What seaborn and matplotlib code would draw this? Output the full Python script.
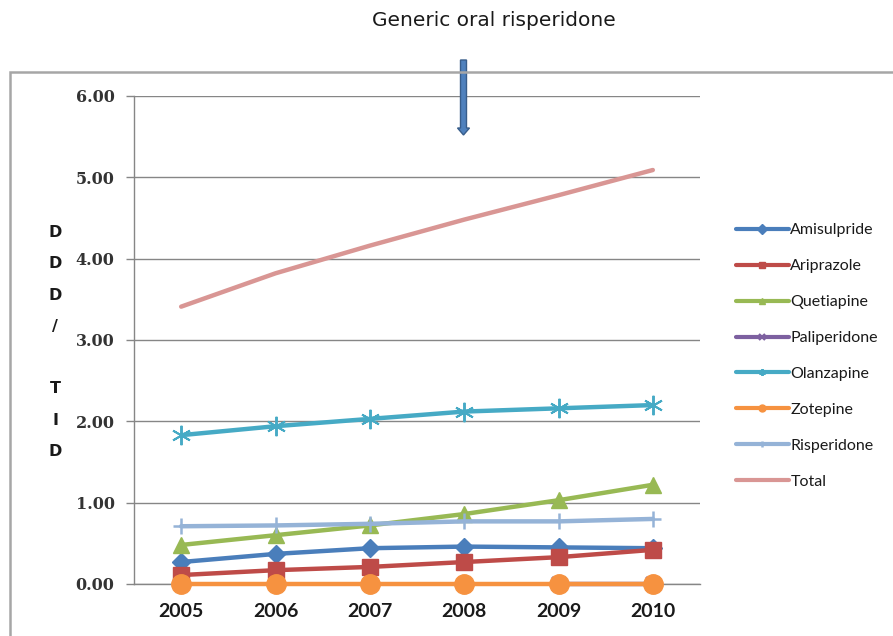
import matplotlib
matplotlib.use("Agg")
import matplotlib.pyplot as plt
from matplotlib.patches import FancyArrow, Rectangle
import numpy as np
import pandas as pd
import seaborn as sns

# ---- data ----
years = ["2005", "2006", "2007", "2008", "2009", "2010"]
amisulpride = [0.27, 0.37, 0.44, 0.46, 0.45, 0.44]
aripiprazole = [0.11, 0.17, 0.21, 0.27, 0.33, 0.42]
quetiapine = [0.48, 0.60, 0.72, 0.86, 1.03, 1.22]
paliperidone = [np.nan, np.nan, np.nan, np.nan, 0.005, 0.005]
olanzapine = [1.83, 1.94, 2.03, 2.12, 2.16, 2.20]
zotepine = [0.00, 0.00, 0.00, 0.00, 0.00, 0.00]
risperidone = [0.71, 0.72, 0.74, 0.77, 0.77, 0.80]
total = [3.41, 3.82, 4.16, 4.48, 4.78, 5.09]

series_names = ["Amisulpride", "Ariprazole", "Quetiapine", "Paliperidone",
                "Olanzapine", "Zotepine", "Risperidone", "Total"]
series_values = [amisulpride, aripiprazole, quetiapine, paliperidone,
                 olanzapine, zotepine, risperidone, total]
y_ticks = [0.0, 1.0, 2.0, 3.0, 4.0, 5.0, 6.0]

# ---- styles ----
colors = ["#4A7EBB", "#BE4B48", "#98B954", "#7D60A0",
          "#46AAC5", "#F69240", "#95B3D7", "#D99694"]
markers = ["D", "s", "^", "x", (6, 2, 0), "o", "+", None]
msizes = [9, 12, 11, 10, 14, 14, 12, 0]
medge = [1, 1, 1, 1.6, 1.4, 1, 1.8, 1]

sns.set_theme(style="white")
plt.rcParams["font.family"] = ["DejaVu Sans"]

fig = plt.figure(figsize=(8.93, 6.36), dpi=100)
ax = fig.add_axes([134 / 893, 52 / 636, (700 - 134) / 893, (584 - 96) / 636])

xpos = np.arange(len(years))
for name, vals, c, m, ms, mew in zip(series_names, series_values, colors, markers, msizes, medge):
    df = pd.DataFrame({"x": xpos, "y": vals}).dropna()
    kw = {}
    if m is not None:
        kw = dict(marker=m, markersize=ms, markeredgecolor=c, markerfacecolor=c,
                  markeredgewidth=mew)
    sns.lineplot(data=df, x="x", y="y", color=c, linewidth=3.2, ax=ax,
                 label=name, estimator=None, sort=False, clip_on=False, zorder=3, **kw)

ax.set_xlim(-0.5, len(years) - 0.5)
ax.set_ylim(0, 6)
ax.set_yticks(y_ticks)
ax.set_yticklabels([f"{v:.2f}" for v in y_ticks], fontfamily="DejaVu Serif",
                   fontweight="bold", fontsize=11.5, color="#333333")
ax.set_xticks(xpos)
ax.set_xticklabels(years, fontfamily="Lato", fontweight="bold", fontsize=14, color="#1a1a1a")
ax.set_xticks(np.arange(-0.5, len(years)), minor=True)
ax.tick_params(axis="x", which="major", length=0, pad=14)
ax.tick_params(axis="x", which="minor", length=6, width=1, color="#868686", direction="out")
ax.tick_params(axis="y", which="major", length=6, width=1, color="#868686", direction="out", pad=8, left=True)
ax.set_xlabel("")
ax.set_ylabel("")
ax.grid(axis="y", color="#868686", linewidth=1)
ax.grid(axis="x", visible=False)
for side in ["top", "right"]:
    ax.spines[side].set_visible(False)
for side in ["left", "bottom"]:
    ax.spines[side].set_color("#868686")
    ax.spines[side].set_linewidth(1)
    ax.spines[side].set_zorder(2)
ax.set_axisbelow(True)
ax.set_facecolor("none")

leg = ax.legend(loc="center left", bbox_to_anchor=(728 / 893, (636 - 356) / 636),
                bbox_transform=fig.transFigure, frameon=False,
                prop={"family": "Lato", "size": 11.5}, handlelength=3.3,
                handletextpad=0.1, labelspacing=1.36, borderpad=0)
for h in leg.legend_handles:
    h.set_markersize(5)
    h.set_linewidth(3)
for t in leg.get_texts():
    t.set_color("#1a1a1a")

# y label (stacked letters)
fig.text(55 / 893, (636 - 342) / 636, "D\nD\nD\n/\n\nT\nI\nD", ha="center", va="center",
         fontsize=11.5, fontweight="bold", linespacing=2.36, color="#1a1a1a")

# title annotation
fig.text(494 / 893, (636 - 21) / 636, "Generic oral risperidone", ha="center", va="center",
         fontsize=14.5, color="#1a1a1a")

# arrow
fig.add_artist(FancyArrow(4.635, 5.76, 0, -0.75, width=0.06, head_width=0.12,
                          head_length=0.07, length_includes_head=True,
                          facecolor="#4F81BD", edgecolor="#385D8A", linewidth=1,
                          transform=fig.dpi_scale_trans))

# outer frame
fig.add_artist(Rectangle((0.10, -0.2), 9.5, (636 - 72) / 100 + 0.2, fill=False,
                         edgecolor="#A6A6A6", linewidth=1.8,
                         transform=fig.dpi_scale_trans))

fig.savefig("out.png", dpi=100)
